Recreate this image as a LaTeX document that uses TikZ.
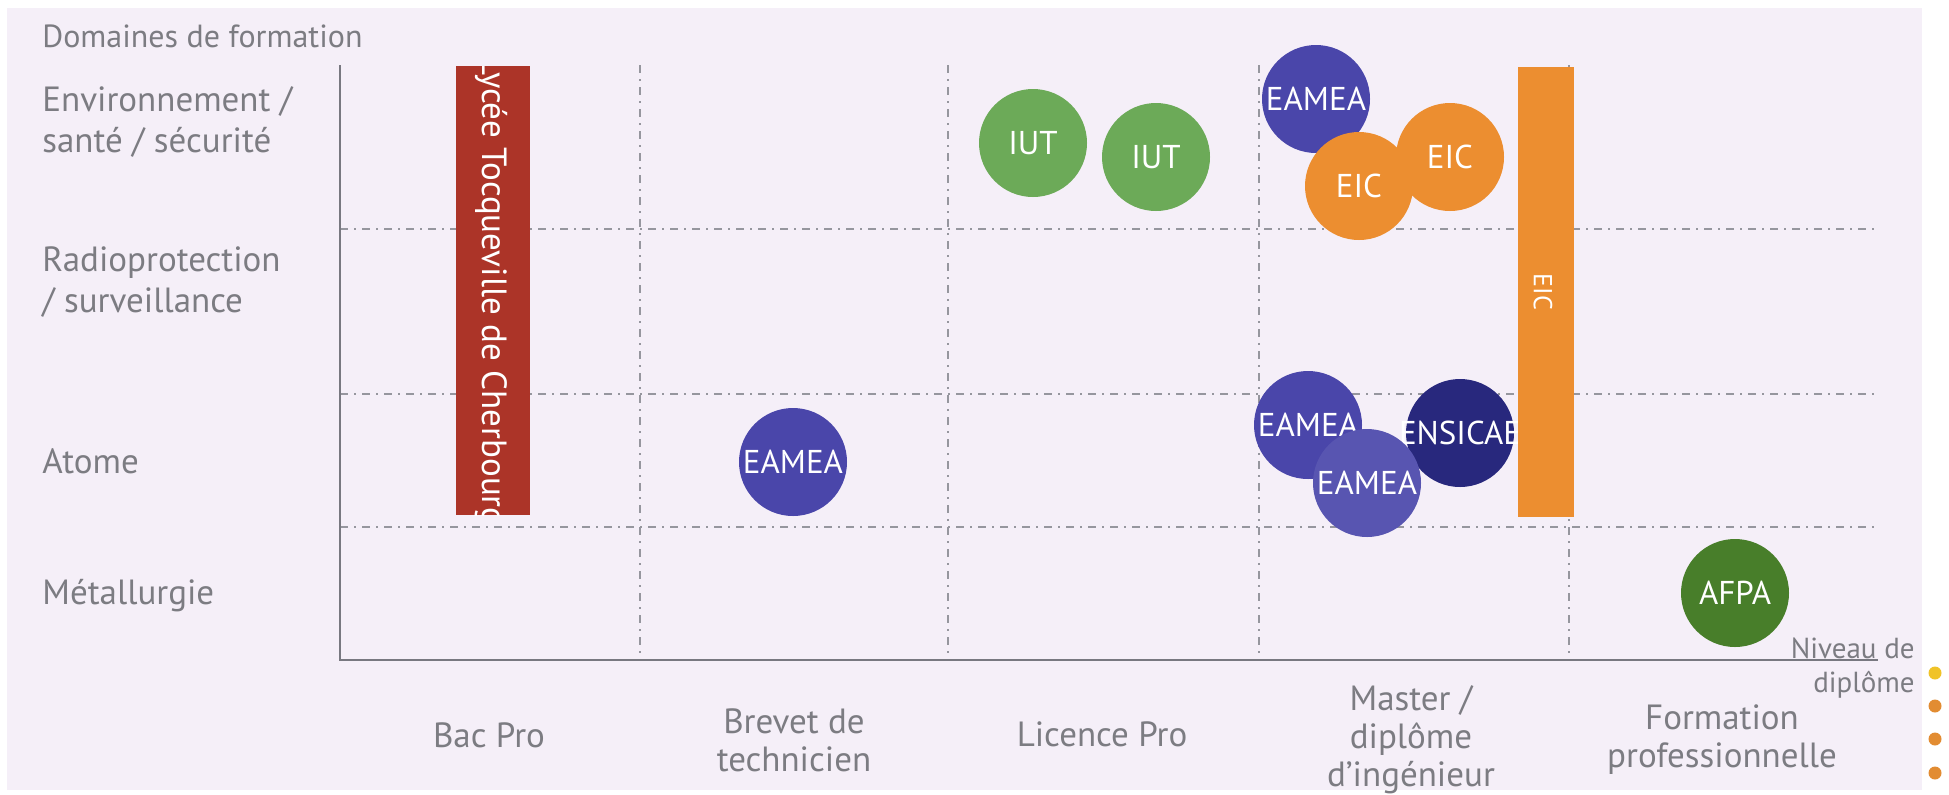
\documentclass[tikz,border=0pt]{standalone}
\usepackage{fontspec}
\setmainfont{PT Sans}
\usetikzlibrary{positioning}

\definecolor{bgcol}{RGB}{245,239,248}
\definecolor{txtgray}{RGB}{124,124,130}
\definecolor{axisgray}{RGB}{120,120,128}
\definecolor{gridgray}{RGB}{150,150,158}
\definecolor{eamea}{RGB}{74,70,170}
\definecolor{ensicae}{RGB}{40,40,125}
\definecolor{eic}{RGB}{236,142,48}
\definecolor{iut}{RGB}{108,170,88}
\definecolor{afpa}{RGB}{72,126,42}
\definecolor{lycee}{RGB}{172,52,40}
\definecolor{dotyellow}{RGB}{240,195,40}
\definecolor{dotorange}{RGB}{226,140,50}

\begin{document}
\begin{tikzpicture}[
  x=0.5pt, y=-0.5pt,
  gridline/.style={gridgray, line width=0.7pt, dash pattern=on 4pt off 3pt on 1pt off 3pt},
  axisline/.style={axisgray, line width=1.2pt},
  domlabel/.style={txtgray, font=\fontsize{17.5}{20.5}\selectfont, align=left, anchor=west, inner sep=0pt},
  level/.style={txtgray, font=\fontsize{17.5}{19}\selectfont, align=center},
  school/.style={circle, minimum size=54pt, inner sep=0pt, text=white, font=\fontsize{16.5}{18}\selectfont},
  bartext/.style={text=white, rotate=-90, inner sep=0pt},
  legdot/.style={circle, minimum size=6.5pt, inner sep=0pt}
]
  \useasboundingbox (0,0) rectangle (1949,794);
  \fill[bgcol] (7,8) rectangle (1922,790);

  % grid
  \foreach \gx in {640,948,1259,1569}
    \draw[gridline] (\gx,65) -- (\gx,660);
  \foreach \gy in {229,394,527}
    \draw[gridline] (340,\gy) -- (1878,\gy);

  % axes
  \coordinate (ytop) at (340,65);
  \coordinate (orig) at (340,660);
  \coordinate (xend) at (1878,660);
  \draw[axisline] (ytop) -- (orig) -- (xend);

  % domaines
  \node[txtgray, anchor=west, inner sep=0pt, font=\fontsize{16}{18}\selectfont] (ttl) at (42,36) {Domaines de formation};
  \node[domlabel] (env) at (42,122) {Environnement /\\santé / sécurité};
  \node[domlabel] (rad) at (42,282) {Radioprotection\\/ surveillance};
  \node[domlabel] (ato) at (42,461) {Atome};
  \node[domlabel] (met) at (42,596) {Métallurgie};

  % niveaux
  \node[level] (bac) at (489,735) {Bac Pro};
  \node[level] (bts) at (794,740) {Brevet de\\technicien};
  \node[level] (lic) at (1102,734) {Licence Pro};
  \node[level] (mst) at (1411,740) {Master /\\diplôme\\d’ingénieur};
  \node[level] (fpr) at (1722,740) {Formation\\professionnelle};
  \node[txtgray, align=right, anchor=east, inner sep=0pt, font=\fontsize{14.5}{17}\selectfont] (niv) at (1915,668) {Niveau de\\diplôme};

  % etablissements
  \node[school, fill=eamea] (eamea1) at (793,462) {EAMEA};
  \node[school, fill=iut] (iut1) at (1033,143) {IUT};
  \node[school, fill=iut] (iut2) at (1156,157) {IUT};
  \node[school, fill=eamea] (eamea2) at (1316,99) {\makebox[0pt]{EAMEA}};
  \node[school, fill=eic] (eic2) at (1450,157) {EIC};
  \node[school, fill=eic] (eic1) at (1359,186) {EIC};
  \node[school, fill=eamea] (eamea3) at (1308,425) {\makebox[0pt]{EAMEA}};
  \node[school, fill=ensicae] (ensi) at (1460,433) {\makebox[0pt]{ENSICAE}};
  \node[school, fill=eamea!92!white] (eamea4) at (1367,483) {\makebox[0pt]{EAMEA}};
  \node[school, fill=afpa] (afpa) at (1735,593) {AFPA};

  % barres
  \fill[lycee] (456,66) rectangle (530,515);
  \begin{scope}
    \clip (456,66) rectangle (530,515);
    \node[bartext, font=\fontsize{17.5}{19}\selectfont] (lyc) at (491,292) {Lycée Tocqueville de Cherbourg};
  \end{scope}
  \fill[eic] (1518,67) rectangle (1574,517);
  \node[bartext, font=\fontsize{13}{15}\selectfont] (eicbar) at (1543,292) {EIC};

  % pastilles
  \node[legdot, fill=dotyellow] (d1) at (1935,673) {};
  \foreach \dy [count=\i from 2] in {706,739,773}
    \node[legdot, fill=dotorange] (d\i) at (1935,\dy) {};
\end{tikzpicture}
\end{document}
